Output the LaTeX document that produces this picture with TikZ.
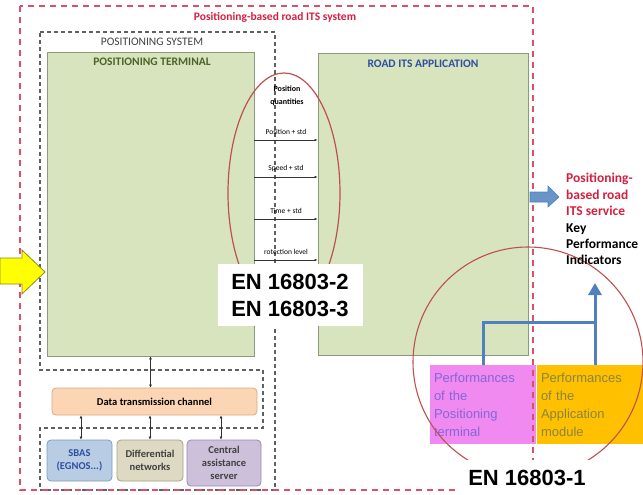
\documentclass[tikz,border=0pt]{standalone}
\usepackage{fontspec}
\setmainfont{Carlito}
\newfontfamily\arialfont{Liberation Sans}
\usetikzlibrary{arrows.meta,shapes.geometric}
\definecolor{redline}{HTML}{D9506A}
\definecolor{redtext}{HTML}{D42040}
\definecolor{grayline}{HTML}{606060}
\definecolor{greenfill}{HTML}{D7E4BD}
\definecolor{greenedge}{HTML}{8C9A7C}
\definecolor{ptgreen}{HTML}{4F6228}
\definecolor{appblue}{HTML}{2F4FA0}
\definecolor{ellred}{HTML}{C0504D}
\definecolor{peach}{HTML}{FCD5B4}
\definecolor{peachedge}{HTML}{D9A980}
\definecolor{sbasfill}{HTML}{B8CCE4}
\definecolor{sbasedge}{HTML}{7F9AB8}
\definecolor{difffill}{HTML}{DDD9C3}
\definecolor{diffedge}{HTML}{A5A085}
\definecolor{casfill}{HTML}{CCC0DA}
\definecolor{casedge}{HTML}{9A88AE}
\definecolor{kpiblue}{HTML}{4F81BD}
\definecolor{pinkfill}{HTML}{F08AF0}
\definecolor{pinktext}{HTML}{8466D8}
\definecolor{goldfill}{HTML}{FFC000}
\definecolor{goldtext}{HTML}{8A8540}
\definecolor{yelarrow}{HTML}{FFFF00}
\definecolor{yeledge}{HTML}{8A8A20}
\tikzset{
  reddash/.style={draw=redline, line width=1.8pt, dash pattern=on 6pt off 5pt},
  graydash/.style={draw=grayline, line width=1.1pt, dash pattern=on 4pt off 3pt},
  greenbox/.style={draw=greenedge, fill=greenfill, line width=0.8pt, inner sep=0pt},
  smallbox/.style={rounded corners=4pt, line width=0.8pt, inner sep=1pt, align=center, font=\fontsize{10.5}{13}\selectfont\bfseries},
  txt/.style={inner sep=0pt},
  qarrow/.style={-{Latex[length=3pt,width=2.5pt]}, line width=0.5pt, draw=black!80},
  dbl/.style={{Latex[length=3pt,width=3pt]}-{Latex[length=3pt,width=3pt]}, line width=0.6pt, draw=black!80},
  enlabel/.style={fill=white, inner sep=0pt, align=center, font=\arialfont\fontsize{22}{27}\selectfont\bfseries},
  perfbox/.style={inner sep=4pt, align=left, anchor=north west, text width=98pt, font=\arialfont\fontsize{13}{18}\selectfont},
  kpiline/.style={draw=kpiblue, line width=3pt},
}
\begin{document}
\begin{tikzpicture}[x=1pt,y=-1pt]
\useasboundingbox (0,0) rectangle (643,495);
% positioning system dashed outline
\draw[graydash] (40,32) -- (275,32) -- (275,490) -- (40,490) -- (40,428) -- (263,428) -- (263,370) -- (40,370) -- cycle;
% green boxes
\node[greenbox, minimum width=207pt, minimum height=304pt] (pt) at (150.5,204) {};
\node[greenbox, minimum width=210pt, minimum height=302pt] (app) at (423,204) {};
\node[txt, font=\fontsize{11.5}{13}\selectfont, text=black!75] (possys) at (152,42) {POSITIONING SYSTEM};
\node[txt, font=\fontsize{11.5}{13}\selectfont\bfseries, text=ptgreen] (ptlabel) at (152,62) {POSITIONING TERMINAL};
\node[txt, font=\fontsize{11.5}{13}\selectfont\bfseries, text=appblue] (applabel) at (423,64) {ROAD ITS APPLICATION};
\node[txt, font=\fontsize{11.5}{13}\selectfont\bfseries, text=redtext] (title) at (275,17) {Positioning-based road ITS system};
% position quantities
\node[txt, align=center, font=\fontsize{8}{13}\selectfont\bfseries] (pq) at (287,96) {Position\\quantities};
\draw[qarrow] (pt.east |- 0,140) -- (app.west |- 0,140) node[midway, above=1.5pt, font=\fontsize{7.5}{9}\selectfont, text=black] (q1) {Position + std};
\draw[qarrow] (pt.east |- 0,177) -- (app.west |- 0,177) node[midway, above=1.5pt, font=\fontsize{7.5}{9}\selectfont, text=black] (q2) {Speed + std};
\draw[qarrow] (pt.east |- 0,219) -- (app.west |- 0,219) node[midway, above=1.5pt, font=\fontsize{7.5}{9}\selectfont, text=black] (q3) {Time + std};
\draw[qarrow] (pt.east |- 0,260) -- (app.west |- 0,260) node[midway, above=1.5pt, font=\fontsize{7.5}{9}\selectfont, text=black] (q4) {rotection level};
% ellipse
\node[draw=ellred, line width=1.2pt, ellipse, minimum width=112pt, minimum height=240pt, inner sep=0pt] (ell) at (284,193) {};
\node[enlabel, minimum width=145pt, minimum height=62pt] (en23) at (290,295) {EN 16803-2\\EN 16803-3};
% data transmission and sources
\node[smallbox, draw=peachedge, fill=peach, minimum width=205pt, minimum height=27pt] (dtc) at (154.5,401.5) {Data transmission channel};
\node[smallbox, draw=sbasedge, fill=sbasfill, text=appblue, minimum width=65pt, minimum height=41pt] (sbas) at (79.5,460.5) {SBAS\\(EGNOS...)};
\node[smallbox, draw=diffedge, fill=difffill, text=black!75, minimum width=66pt, minimum height=41pt] (diff) at (150,460.5) {Differential\\networks};
\node[smallbox, draw=casedge, fill=casfill, text=black!75, minimum width=74pt, minimum height=46pt] (cas) at (224,463) {Central\\assistance\\server};
\draw[dbl] (pt.south) -- (pt.south |- dtc.north);
\draw[dbl] ([xshift=1.5pt]sbas.north) -- ([xshift=1.5pt]sbas.north |- dtc.south);
\draw[dbl] (diff.north) -- (diff.north |- dtc.south);
\draw[dbl] ([xshift=-3pt]cas.north) -- ([xshift=-3pt]cas.north |- dtc.south);
% performance boxes
\node[fill=pinkfill, minimum width=106pt, minimum height=79pt, inner sep=0pt] (perfpos) at (483,404.5) {};
\node[fill=goldfill, minimum width=106pt, minimum height=79pt, inner sep=0pt] (perfapp) at (590,404.5) {};
\node[perfbox, text=pinktext] (perfpostxt) at ([yshift=-4pt]perfpos.north west) {Performances\\of the\\Positioning\\terminal};
\node[perfbox, text=goldtext] (perfapptxt) at ([yshift=-4pt]perfapp.north west) {Performances\\of the\\Application\\module};
% outer red dashed box
\draw[reddash] (20,6) rectangle (533,490);
% circle
\node[draw=ellred, line width=1.1pt, circle, minimum size=230pt, inner sep=0pt] (circ) at (528,362) {};
% KPI connectors
\coordinate (kpi) at (595,283);
\coordinate (join) at (595,322);
\draw[kpiline] (perfpos.north) |- (join);
\draw[kpiline, -{Triangle[length=12pt,width=13pt]}] ([xshift=5pt]perfapp.north) -- (kpi);
\node[enlabel, minimum width=145pt, minimum height=36pt] (en1) at (527,478) {EN 16803-1};
% yellow input arrow
\draw[fill=yelarrow, draw=yeledge, line width=0.8pt] (0,258) -- (22,258) -- (22,250) -- (45,272) -- (22,294) -- (22,284) -- (0,284) -- cycle;
% blue output arrow
\draw[fill=kpiblue!85!white, draw=kpiblue, line width=0.6pt] (530,192) -- (548,192) -- (548,186) -- (559,197) -- (548,207) -- (548,202) -- (530,202) -- cycle;
% right texts
\node[txt, anchor=north west, align=left, text=redtext, font=\fontsize{13.5}{16.5}\selectfont\bfseries] (service) at (566,173) {Positioning-\\based road\\ITS service};
\node[txt, anchor=north west, align=left, text=black, font=\fontsize{13.5}{16}\selectfont\bfseries] (kpitxt) at (566,224) {Key\\Performance\\Indicators};
\end{tikzpicture}
\end{document}
